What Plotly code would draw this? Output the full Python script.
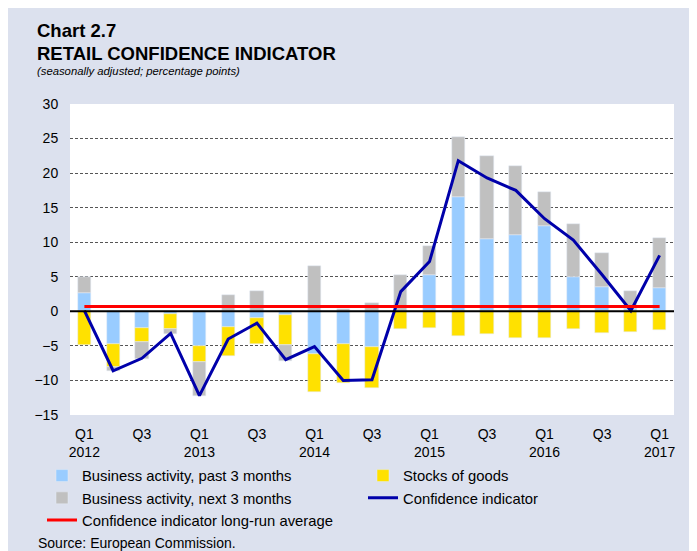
import plotly.graph_objects as go

# ---- data ----
quarters = [
    "2012 Q1", "2012 Q2", "2012 Q3", "2012 Q4",
    "2013 Q1", "2013 Q2", "2013 Q3", "2013 Q4",
    "2014 Q1", "2014 Q2", "2014 Q3", "2014 Q4",
    "2015 Q1", "2015 Q2", "2015 Q3", "2015 Q4",
    "2016 Q1", "2016 Q2", "2016 Q3", "2016 Q4",
    "2017 Q1",
]
business_past = [2.6, -4.7, -2.4, -0.4, -5.0, -2.2, -1.0, -0.6, -6.2, -4.7, -5.2,
                 0.0, 5.2, 16.5, 10.5, 11.1, 12.4, 5.0, 3.5, 0.3, 3.4]
stocks_goods = [-4.9, -3.3, -2.0, -2.15, -2.4, -4.3, -3.7, -4.2, -5.5, -5.7, -5.9,
                -2.5, -2.4, -3.5, -3.3, -3.8, -3.9, -2.6, -3.2, -3.0, -2.7]
business_next = [2.4, -0.6, -2.5, -0.7, -4.8, 2.4, 3.0, -2.4, 6.5, 0.35, 1.2,
                 5.2, 4.3, 8.7, 12.0, 9.9, 4.8, 7.6, 4.95, 2.6, 7.2]
confidence = [0.1, -8.6, -6.8, -3.2, -12.2, -4.0, -1.7, -7.0, -5.1, -10.0, -9.9,
              2.85, 7.2, 21.8, 19.3, 17.5, 13.4, 10.3, 5.3, 0.1, 8.1]
long_run_average = 0.7

tick_quarters = quarters[::2]
tick_labels = ["Q1<br>2012", "Q3", "Q1<br>2013", "Q3", "Q1<br>2014", "Q3",
               "Q1<br>2015", "Q3", "Q1<br>2016", "Q3", "Q1<br>2017"]

FONT = "Arial, 'Liberation Sans', sans-serif"

# figure size and plot area (figure sits 8px into the page)
OFF = 8
W, H = 688, 543
L, R, T, B = 62, 22, 96, 136
PW, PH = W - L - R, H - T - B


def px_x(sx):
    """screen x pixel -> paper fraction"""
    return (sx - OFF - L) / PW


def px_y(sy):
    """screen y pixel -> paper fraction"""
    return (H - B - (sy - OFF)) / PH


fig = go.Figure()
fig.add_trace(go.Bar(x=quarters, y=business_past, name="Business activity, past 3 months",
                     marker_color="#99CCFF", width=0.46))
fig.add_trace(go.Bar(x=quarters, y=stocks_goods, name="Stocks of goods",
                     marker_color="#FFE100", width=0.46))
fig.add_trace(go.Bar(x=quarters, y=business_next, name="Business activity, next 3 months",
                     marker_color="#C0C0C0", width=0.46))
fig.add_trace(go.Scatter(x=quarters, y=confidence, name="Confidence indicator",
                         mode="lines", line=dict(color="#0000AA", width=3)))
fig.add_trace(go.Scatter(x=[quarters[0], quarters[-1]],
                         y=[long_run_average, long_run_average],
                         name="Confidence indicator long-run average",
                         mode="lines", line=dict(color="#FF0000", width=3)))

shapes = [
    # zero line above bars
    dict(type="line", xref="paper", yref="y", x0=0, x1=1, y0=0, y1=0,
         line=dict(color="black", width=2), layer="above"),
]

annotations = [
    dict(text="<b>Chart 2.7</b>", x=px_x(35), y=px_y(31), xref="paper", yref="paper",
         xanchor="left", yanchor="middle", showarrow=False,
         font=dict(family=FONT, size=18.5, color="black")),
    dict(text="<b>RETAIL CONFIDENCE INDICATOR</b>", x=px_x(35), y=px_y(53), xref="paper",
         yref="paper", xanchor="left", yanchor="middle", showarrow=False,
         font=dict(family=FONT, size=18.5, color="black")),
    dict(text="<i>(seasonally adjusted; percentage points)</i>", x=px_x(35), y=px_y(71),
         xref="paper", yref="paper", xanchor="left", yanchor="middle", showarrow=False,
         font=dict(family=FONT, size=11.3, color="black")),
    dict(text="Source: European Commission.", x=px_x(36), y=px_y(543), xref="paper",
         yref="paper", xanchor="left", yanchor="middle", showarrow=False,
         font=dict(family=FONT, size=14, color="black")),
]

fig.update_layout(
    width=W, height=H, autosize=False,
    margin=dict(l=L, r=R, t=T, b=B, autoexpand=False),
    paper_bgcolor="#DCE1EE", plot_bgcolor="white",
    barmode="relative", bargap=0,
    font=dict(family=FONT, size=14, color="black"),
    shapes=shapes, annotations=annotations,
    legend=dict(orientation="h", x=px_x(42), y=px_y(459.5), xanchor="left", yanchor="top",
                entrywidth=276, entrywidthmode="pixels", traceorder="normal",
                bgcolor="rgba(0,0,0,0)", font=dict(family=FONT, size=14.8, color="black")),
    showlegend=True,
)
fig.update_xaxes(type="category", range=[-0.5, 20.5], tickmode="array",
                 tickvals=tick_quarters, ticktext=tick_labels, showgrid=False,
                 showline=False, zeroline=False, ticks="outside", ticklen=6,
                 tickcolor="rgba(0,0,0,0)", tickfont=dict(family=FONT, size=14))
fig.update_yaxes(range=[-15, 30], dtick=5, tick0=0, showgrid=True, gridcolor="#555555",
                 griddash="3px,2px", gridwidth=1, zeroline=False, showline=False,
                 ticks="outside", ticklen=8, tickcolor="rgba(0,0,0,0)",
                 tickfont=dict(family=FONT, size=14))

fig.write_html("out.html")
